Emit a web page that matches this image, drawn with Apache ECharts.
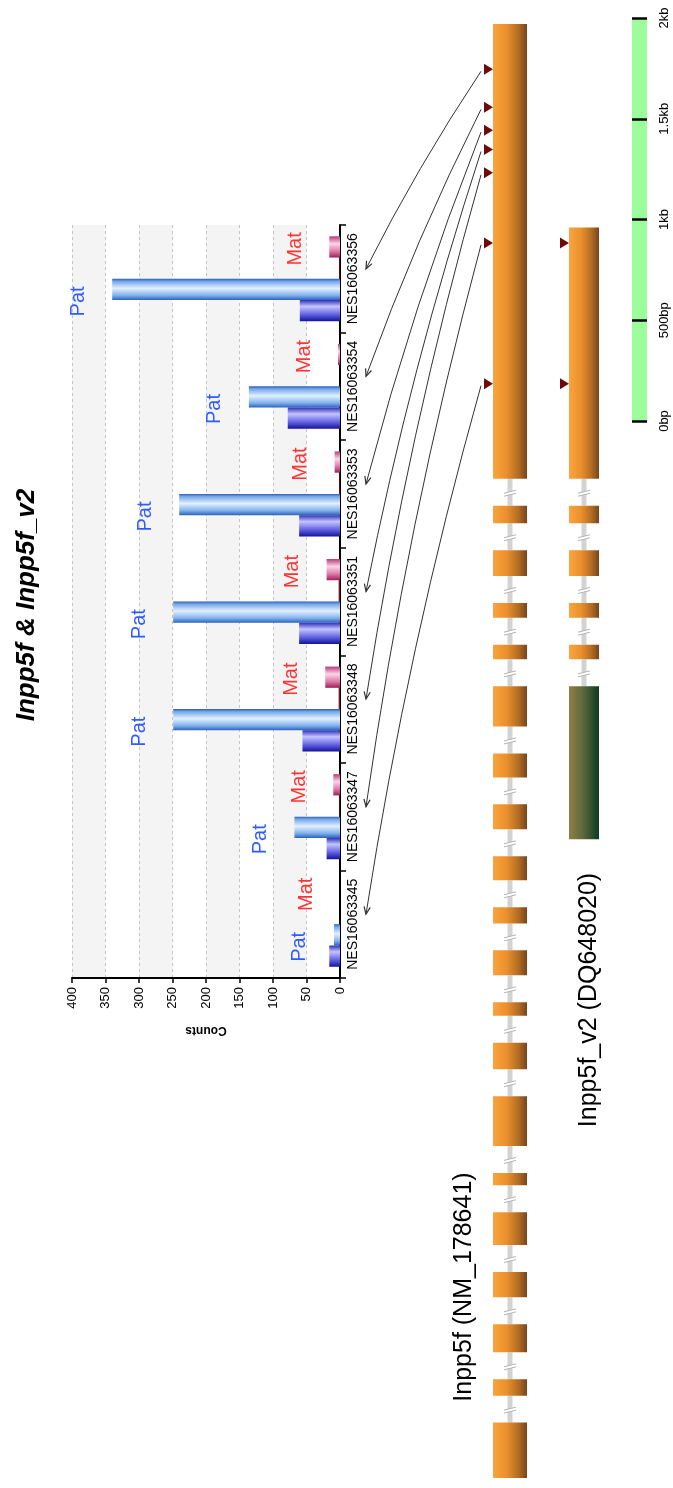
<!DOCTYPE html>
<html>
<head>
<meta charset="utf-8">
<script src="https://cdn.jsdelivr.net/npm/echarts@6/dist/echarts.min.js"></script>
<style>
  html, body { margin: 0; padding: 0; background: #fff; }
  #chart { width: 673px; height: 1488px; }
</style>
</head>
<body>
<div id="chart"></div>
<script>
// SNP assays, first = bottom of the chart
const categories = ['NES16063345', 'NES16063347', 'NES16063348', 'NES16063351', 'NES16063353', 'NES16063354', 'NES16063356'];
// allele counts per assay
const patDark  = [16, 20, 56, 61, 61, 78, 60];
const patLight = [9, 68, 249, 249, 240, 136, 340];
const matDark  = [0, 1, 2, 2, 1, 0, 1];
const matLight = [0, 10, 22, 20, 8, 3, 16];

// SNP position of each assay inside the 3' exon (bp from the exon start)
const snpPos = [472, 1171, 1519, 1635, 1731, 1844, 2033];

// transcripts and their exon lengths in bp, 5' -> 3'
const transcripts = ['Inpp5f (NM_178641)', 'Inpp5f_v2 (DQ648020)'];
const inpp5fExons = [275, 81, 139, 126, 163, 61, 247, 131, 67, 124, 80, 119, 124, 119, 199, 73, 73, 128, 87, 2258];
const v2Exons = [759, 73, 73, 128, 87, 1247];
const v2FirstSharedExon = 15;   // Inpp5f exon matching v2 exon 2

// scale bar ticks
const scaleTicks = ['0bp', '500bp', '1kb', '1.5kb', '2kb'];

const FONT = "'Liberation Sans', Arial, sans-serif";
const INTRON_GAP = 134;          // introns drawn with a fixed, broken length
const exonWidth = [34, 30];

function layoutExons(lengths, offset) {
  let pos = offset;
  return lengths.map(len => { const s = pos; pos += len + INTRON_GAP; return [s, s + len]; });
}
const inpp5fLayout = layoutExons(inpp5fExons, 0);
const v2Layout = layoutExons(v2Exons, inpp5fLayout[v2FirstSharedExon][0] - v2Exons[0] - INTRON_GAP);
const geneTotal = inpp5fLayout[inpp5fLayout.length - 1][1];
const lastExonStart = [inpp5fLayout[inpp5fLayout.length - 1][0], v2Layout[v2Layout.length - 1][0]];

const exonData = [];
inpp5fLayout.forEach(([s, e]) => exonData.push([0, s, e, 0]));
v2Layout.forEach(([s, e], i) => exonData.push([1, s, e, i === 0 ? 1 : 0]));

const intronData = [];
[inpp5fLayout, v2Layout].forEach((lay, t) => {
  for (let i = 1; i < lay.length; i++) intronData.push([t, lay[i - 1][1], lay[i][0]]);
});

const snpData = [];
snpPos.forEach(p => snpData.push([0, lastExonStart[0] + p]));
snpPos.forEach(p => { if (p < v2Exons[v2Exons.length - 1]) snpData.push([1, lastExonStart[1] + p]); });

const grad = (dir, stops) => ({
  type: 'linear', x: 0, y: 0, x2: dir === 'h' ? 1 : 0, y2: dir === 'h' ? 0 : 1,
  colorStops: stops.map(([o, c]) => ({ offset: o, color: c }))
});
const orangeGrad = grad('h', [[0, '#f9a43f'], [0.4, '#ea902d'], [0.75, '#b36c25'], [1, '#764519']]);
const greenGrad = grad('h', [[0, '#8e7e47'], [0.45, '#5e6a3a'], [1, '#0b3a23']]);
const lightBlueGrad = grad('v', [[0, '#2a5fb8'], [0.12, '#74a6e8'], [0.45, '#e2f0ff'], [0.78, '#82b2ec'], [1, '#2c62bc']]);
const darkBlueGrad = grad('v', [[0, '#2e2eb8'], [0.3, '#c4c4ff'], [0.65, '#6a6ae6'], [1, '#12129c']]);
const pinkGrad = grad('v', [[0, '#b83a78'], [0.35, '#fcd4e8'], [0.7, '#e07aa8'], [1, '#9e2058']]);

function renderExon(params, api) {
  const t = api.value(0);
  const p0 = api.coord([t, api.value(1)]);
  const p1 = api.coord([t, api.value(2)]);
  const w = exonWidth[t];
  return {
    type: 'rect',
    shape: { x: p0[0] - w / 2, y: p1[1], width: w, height: p0[1] - p1[1] },
    style: { fill: api.value(3) === 1 ? greenGrad : orangeGrad }
  };
}
function renderIntron(params, api) {
  const t = api.value(0);
  const a = api.coord([t, api.value(1)]);
  const b = api.coord([t, api.value(2)]);
  const cx = a[0], my = (a[1] + b[1]) / 2;
  return {
    type: 'group',
    children: [
      { type: 'line', shape: { x1: cx, y1: a[1], x2: cx, y2: b[1] }, style: { stroke: '#d3d3d3', lineWidth: 5 } },
      { type: 'polygon', shape: { points: [[cx - 6, my + 1], [cx + 6, my - 2], [cx + 6, my + 1], [cx - 6, my + 4]] }, style: { fill: '#fff' } },
      { type: 'line', shape: { x1: cx - 6, y1: my + 1, x2: cx + 6, y2: my - 2 }, style: { stroke: '#b4b4b4', lineWidth: 1 } },
      { type: 'line', shape: { x1: cx - 6, y1: my + 4, x2: cx + 6, y2: my + 1 }, style: { stroke: '#b4b4b4', lineWidth: 1 } }
    ]
  };
}
function renderSnp(params, api) {
  const t = api.value(0);
  const p = api.coord([t, api.value(1)]);
  const tip = p[0] - exonWidth[t] / 2;
  return {
    type: 'polygon',
    shape: { points: [[tip, p[1]], [tip - 9, p[1] - 5.5], [tip - 9, p[1] + 5.5]] },
    style: { fill: '#6e0a0a' }
  };
}

const barBase = { type: 'bar', xAxisIndex: 0, yAxisIndex: 0, barGap: '0%', barCategoryGap: '21%' };
// rotated label: local x runs upward, so a negative x offset moves it down the page
const groupLabel = (text, color, down) => ({
  show: true, formatter: text, position: 'left', distance: 34, rotate: 90,
  align: 'center', verticalAlign: 'middle', offset: [-down, 0],
  color: color, fontSize: 20, fontFamily: FONT
});

const chart = echarts.init(document.getElementById('chart'));
chart.setOption({
  animation: false,
  backgroundColor: '#fff',
  textStyle: { fontFamily: FONT },
  grid: [
    { left: 72, right: 333, top: 225, bottom: 510 },
    { left: 473, width: 148, top: 24, bottom: 10 },
    { left: 632, width: 15, top: 18, height: 403, show: true, backgroundColor: '#9cfd9c', borderWidth: 0 }
  ],
  xAxis: [
    {
      type: 'value', gridIndex: 0, min: 0, max: 400, interval: 50, inverse: true, position: 'bottom',
      axisLine: { show: true, onZero: false, lineStyle: { color: '#000', width: 2 } },
      axisTick: { show: true, length: 5, lineStyle: { color: '#000', width: 1.5 } },
      axisLabel: { rotate: 90, fontSize: 13, color: '#000', margin: 9, fontFamily: FONT },
      splitLine: { show: true, lineStyle: { color: '#c4c4c4', type: [3, 3], width: 1 } },
      splitArea: { show: true, areaStyle: { color: ['#ffffff', '#f4f4f4'] } },
      name: 'Counts', nameLocation: 'middle', nameGap: 46, nameRotate: 180,
      nameTextStyle: { fontWeight: 'bold', fontSize: 12, color: '#000', fontFamily: FONT }
    },
    { type: 'category', gridIndex: 1, data: transcripts, show: false },
    { type: 'value', gridIndex: 2, show: false }
  ],
  yAxis: [
    {
      type: 'category', gridIndex: 0, data: categories, position: 'right',
      axisLine: { show: true, lineStyle: { color: '#000', width: 2 } },
      axisTick: { show: true, length: 6, lineStyle: { color: '#000', width: 1.5 } },
      axisLabel: { interval: 0, rotate: 90, fontSize: 14, color: '#000', margin: 6, fontFamily: FONT },
      splitLine: { show: true, lineStyle: { color: '#c4c4c4', type: [3, 3], width: 1 } }
    },
    { type: 'value', gridIndex: 1, min: 0, max: geneTotal, show: false },
    {
      type: 'value', gridIndex: 2, min: 0, max: 2000, interval: 500, position: 'right',
      axisLine: { show: false }, axisTick: { show: false },
      splitLine: { show: true, lineStyle: { color: '#000', width: 2.5 } },
      axisLabel: {
        rotate: 90, fontSize: 13, color: '#000', margin: 11, fontFamily: FONT,
        formatter: v => scaleTicks[Math.round(v / 500)]
      }
    }
  ],
  series: [
    Object.assign({}, barBase, { name: 'Mat 2', data: matLight, itemStyle: { color: pinkGrad }, label: groupLabel('Mat', '#ff3333', 2) }),
    Object.assign({}, barBase, { name: 'Mat 1', data: matDark, itemStyle: { color: '#8b1020' } }),
    Object.assign({}, barBase, { name: 'Pat 2', data: patLight, itemStyle: { color: lightBlueGrad }, label: groupLabel('Pat', '#2f5bff', 12) }),
    Object.assign({}, barBase, { name: 'Pat 1', data: patDark, itemStyle: { color: darkBlueGrad } }),
    { type: 'custom', name: 'introns', xAxisIndex: 1, yAxisIndex: 1, data: intronData, renderItem: renderIntron, encode: { x: 0, y: [1, 2] }, z: 1 },
    { type: 'custom', name: 'exons', xAxisIndex: 1, yAxisIndex: 1, data: exonData, renderItem: renderExon, encode: { x: 0, y: [1, 2] }, z: 2 },
    { type: 'custom', name: 'snps', xAxisIndex: 1, yAxisIndex: 1, data: snpData, renderItem: renderSnp, encode: { x: 0, y: 1 }, z: 3 }
  ]
});

// arrows from each SNP on the transcript to its assay label
const graphics = [];
const tipX = chart.convertToPixel({ xAxisIndex: 0 }, 0) + 26;
categories.forEach((c, i) => {
  const ty = chart.convertToPixel({ yAxisIndex: 0 }, c) - 10;
  const sp = chart.convertToPixel({ xAxisIndex: 1, yAxisIndex: 1 }, [0, lastExonStart[0] + snpPos[i]]);
  const sx = sp[0] - exonWidth[0] / 2 - 12, sy = sp[1] + 2;
  const dx = tipX - sx, dy = ty - sy, len = Math.hypot(dx, dy);
  const k = 0.03 * len;
  const cpx = (sx + tipX) / 2 - dy / len * k;
  const cpy = (sy + ty) / 2 + dx / len * k;
  graphics.push({
    type: 'bezierCurve', silent: true, z: 10,
    shape: { x1: sx, y1: sy, x2: tipX, y2: ty, cpx1: cpx, cpy1: cpy },
    style: { stroke: '#333', lineWidth: 1, fill: null }
  });
  const ux = tipX - cpx, uy = ty - cpy, ul = Math.hypot(ux, uy);
  const ax = ux / ul, ay = uy / ul, L = 8, ang = 0.4;
  const rot = a => [tipX - L * (ax * Math.cos(a) - ay * Math.sin(a)), ty - L * (ax * Math.sin(a) + ay * Math.cos(a))];
  graphics.push({
    type: 'polyline', silent: true, z: 10,
    shape: { points: [rot(ang), [tipX, ty], rot(-ang)] },
    style: { stroke: '#333', lineWidth: 1.2, fill: null }
  });
});

graphics.push(
  { type: 'text', x: 27, y: 605, rotation: Math.PI / 2,
    style: { text: 'Inpp5f & Inpp5f_v2', fontFamily: FONT, fontSize: 26, fontWeight: 'bold', fontStyle: 'italic', fill: '#000', align: 'center', verticalAlign: 'middle' } },
  { type: 'text', x: 464, y: 1287, rotation: Math.PI / 2,
    style: { text: transcripts[0], fontFamily: FONT, fontSize: 25, fill: '#000', align: 'center', verticalAlign: 'middle' } },
  { type: 'text', x: 589, y: 1000, rotation: Math.PI / 2,
    style: { text: transcripts[1], fontFamily: FONT, fontSize: 25, fill: '#000', align: 'center', verticalAlign: 'middle' } }
);
chart.setOption({ graphic: graphics });
</script>
</body>
</html>
